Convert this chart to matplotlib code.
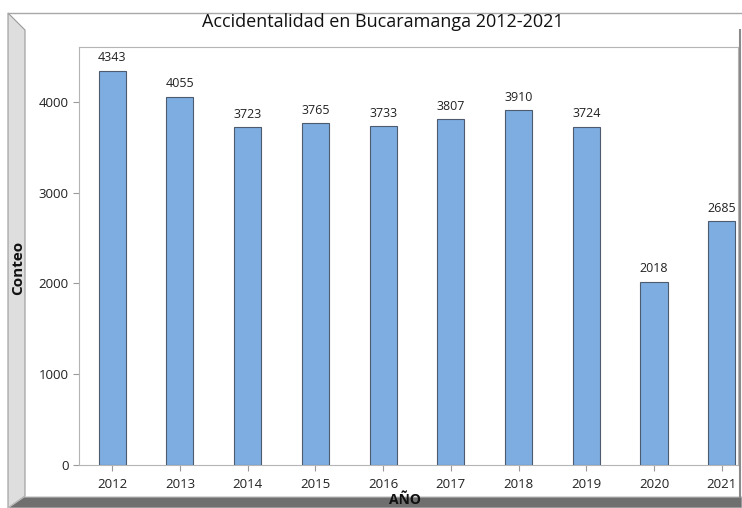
import matplotlib.pyplot as plt
from matplotlib.patches import Polygon

years = ['2012', '2013', '2014', '2015', '2016', '2017', '2018', '2019', '2020', '2021']
counts = [4343, 4055, 3723, 3765, 3733, 3807, 3910, 3724, 2018, 2685]
yticks = [0, 1000, 2000, 3000, 4000]

W, H = 742, 508
plt.rcParams['font.family'] = ['Open Sans', 'DejaVu Sans']

fig = plt.figure(figsize=(W / 100, H / 100), dpi=100)

def fx(px):
    return px / W

def fy(py):
    return 1 - py / H

# window frame decorations (bevels of the screenshot)
fig.patches.append(Polygon([(fx(8), fy(13)), (fx(25), fy(30)), (fx(25), fy(496)), (fx(8), fy(508))],
                           closed=True, transform=fig.transFigure, facecolor='#dedede',
                           edgecolor='#9a9a9a', lw=0.8))
fig.patches.append(Polygon([(fx(8), fy(508)), (fx(24), fy(497)), (fx(742), fy(497)), (fx(742), fy(508))],
                           closed=True, transform=fig.transFigure, facecolor='#6f6f6f',
                           edgecolor='#bdbdbd', lw=0.8))
fig.lines.append(plt.Line2D([fx(8), fx(742)], [fy(13), fy(13)], transform=fig.transFigure,
                            color='#a8a8a8', lw=1))
fig.lines.append(plt.Line2D([fx(740), fx(740)], [fy(30), fy(497)], transform=fig.transFigure,
                            color='#8a8a8a', lw=1.5))

ax = fig.add_axes([fx(79), fy(465), fx(738) - fx(79), fy(47) - fy(465)])
x = range(len(years))
ax.bar(x, counts, width=0.4, color='#7eade2', edgecolor='#4d5b6e', linewidth=0.8, zorder=3)
for xi, v in zip(x, counts):
    ax.text(xi, v + 70, str(v), ha='center', va='bottom', fontsize=9, color='#222222')

ax.set_xlim(-0.49, 9.24)
ax.set_ylim(0, 4603)
ax.set_xticks(list(x))
ax.set_xticklabels(years)
ax.set_yticks(yticks)
ax.tick_params(axis='both', colors='#9a9a9a', labelcolor='#222222', labelsize=9.5, length=4, width=0.8)
ax.tick_params(axis='x', pad=5)
for s in ax.spines.values():
    s.set_color('#b5b5b5')
    s.set_linewidth(0.8)

fig.text(fx(383), fy(22), 'Accidentalidad en Bucaramanga 2012-2021', ha='center', va='center',
         fontsize=13, color='#111111')
fig.text(fx(18), fy(268), 'Conteo', rotation=90, ha='center', va='center', fontsize=11,
         fontweight='bold', color='#111111')
fig.text(fx(405), fy(507), 'AÑO', ha='center', va='bottom', fontsize=10,
         fontweight='bold', color='#111111', zorder=5)

fig.savefig('out.png', dpi=100)
